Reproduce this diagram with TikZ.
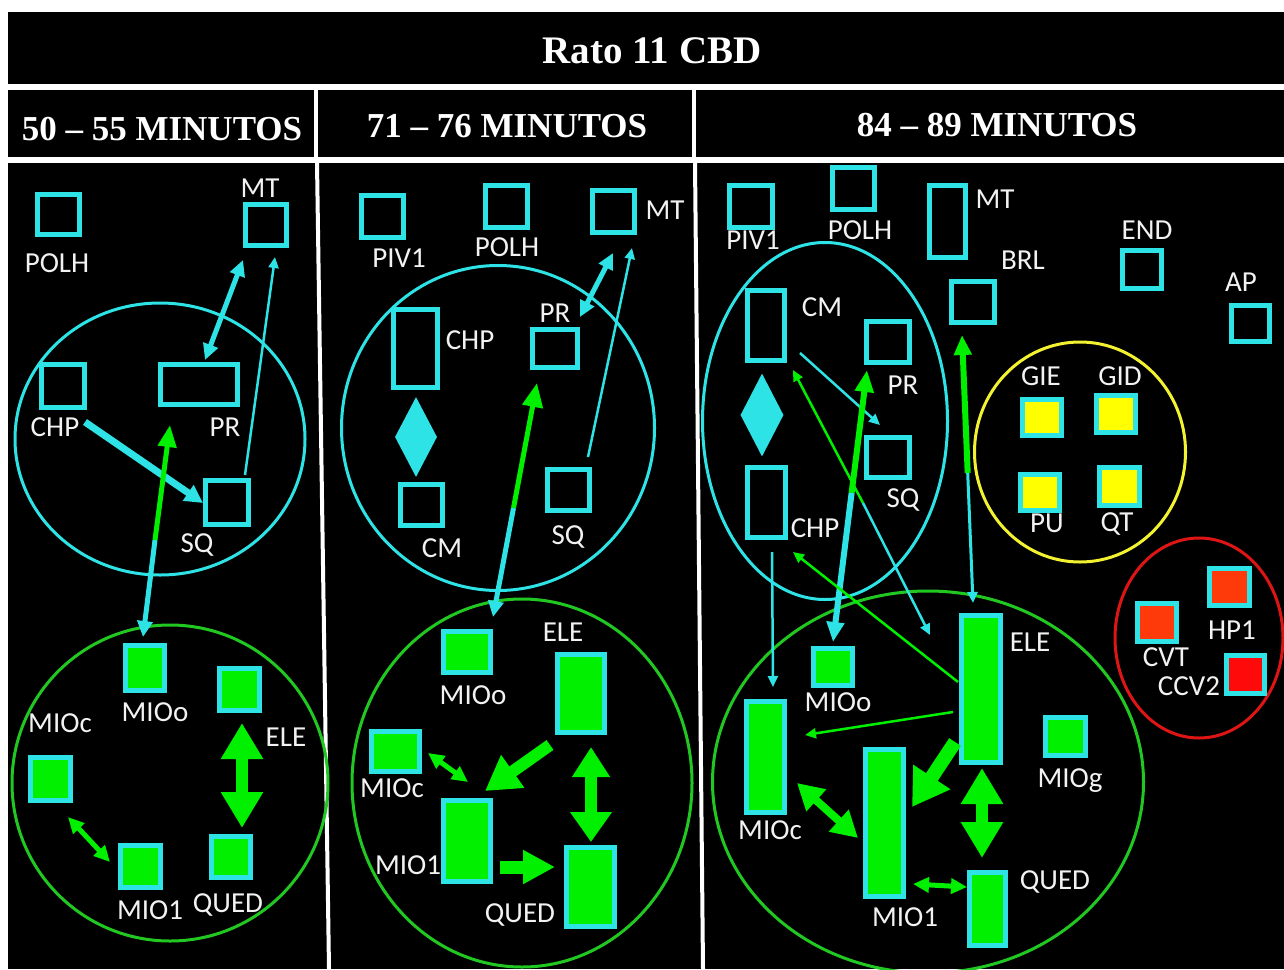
\documentclass[tikz,border=0pt]{standalone}
\usepackage{fontspec}
\setmainfont{Liberation Serif}
\newfontfamily\labfont{Carlito}
\usetikzlibrary{arrows.meta,shapes.geometric}
\definecolor{cy}{HTML}{2EE3E6}
\definecolor{gr}{HTML}{00F000}
\definecolor{grl}{HTML}{22C822}
\definecolor{ye}{HTML}{FFFF00}
\definecolor{yel}{HTML}{F2F230}
\definecolor{org}{HTML}{FF3A0A}
\definecolor{rd}{HTML}{FF0A0A}
\definecolor{rel}{HTML}{DD1515}
\definecolor{txt}{HTML}{F2F2F2}
\newcommand\mybox[6]{%
 \pgfmathsetmacro\bcx{(#3+#5)/2}%
 \pgfmathsetmacro\bcy{(#4+#6)/2}%
 \pgfmathsetmacro\bw{#5-#3-5}%
 \pgfmathsetmacro\bh{#6-#4-5}%
 \node[#1, minimum width=\bw pt, minimum height=\bh pt] (#2) at (\bcx,\bcy) {};}
\tikzset{
 bx/.style={draw=cy, line width=5pt, inner sep=0pt, rectangle},
 gbx/.style={bx, fill=gr},
 ybx/.style={bx, fill=ye},
 obx/.style={bx, fill=org},
 rbx/.style={bx, fill=rd},
 lbl/.style={text=txt, font=\labfont\fontsize{29}{29}\selectfont, inner sep=0pt, text height=18.5pt, text depth=0pt},
 hdr/.style={text=white, font=\bfseries\fontsize{35}{35}\selectfont, inner sep=0pt, text height=23pt, text depth=0pt},
 ttl/.style={text=white, font=\bfseries\fontsize{39}{39}\selectfont, inner sep=0pt, text height=26pt, text depth=0pt},
 cyell/.style={ellipse, draw=cy, line width=3pt, inner sep=0pt},
 grell/.style={ellipse, draw=grl, line width=3pt, inner sep=0pt},
 thin/.style={line width=2.5pt, -{Triangle[length=11pt,width=10pt]}},
 mid/.style={line width=5pt, {Triangle[length=16pt,width=15pt]}-{Triangle[length=16pt,width=15pt]}},
 big/.style={line width=12pt, -{Triangle[length=34pt,width=38pt]}},
 bigdbl/.style={line width=12pt, {Triangle[length=36pt,width=40pt]}-{Triangle[length=36pt,width=40pt]}},
 dblm/.style={line width=8pt, {Triangle[length=26pt,width=28pt]}-{Triangle[length=26pt,width=28pt]}},
}
\begin{document}
\begin{tikzpicture}[x=1pt,y=-1pt]
\useasboundingbox (0,0) rectangle (1284,969);
\fill[white] (0,0) rectangle (1284,969);
\fill[black] (8,12) rectangle (1284,84);
\fill[black] (8,90) rectangle (1284,157);
\fill[black] (8,163) rectangle (1284,969);
\draw[white, line width=4pt] (316,90) -- (316,157);
\draw[white, line width=4pt] (694,90) -- (694,157);
\draw[white, line width=4pt] (317,163) -- (329,969);
\draw[white, line width=4pt] (695,163) -- (703,969);
\node[ttl] (title) at (652,50) {Rato 11 CBD};
\node[hdr] (h1) at (162,129) {50 – 55 MINUTOS};
\node[hdr] (h2) at (507,126) {71 – 76 MINUTOS};
\node[hdr] (h3) at (997,125) {84 – 89 MINUTOS};

% ellipses
\node[cyell, minimum width=290pt, minimum height=272pt] (e1c) at (160,439) {};
\node[grell, minimum width=316pt, minimum height=316pt] (e1g) at (170,783) {};
\node[cyell, minimum width=313pt, minimum height=325pt] (e2c) at (498,428) {};
\node[grell, minimum width=340pt, minimum height=368pt] (e2g) at (522,783) {};
\node[cyell, minimum width=245pt, minimum height=357pt] (e3c) at (825,421) {};
\node[grell, minimum width=431pt, minimum height=382pt] (e3g) at (928,782) {};
\node[ellipse, draw=yel, line width=3pt, minimum width=211pt, minimum height=220pt] (e3y) at (1080,452) {};
\node[ellipse, draw=rel, line width=3pt, minimum width=168pt, minimum height=200pt] (e3r) at (1199,638) {};

% column 1 boxes
\mybox{bx}{aPOLH}{35}{192}{82}{237}
\mybox{bx}{aMT}{243}{202}{289}{248}
\mybox{bx}{aCHP}{39}{362}{87}{410}
\mybox{bx}{aPR}{158}{362}{240}{407}
\mybox{bx}{aSQ}{203}{478}{251}{527}
\mybox{gbx}{aMIOo}{123}{643}{167}{693}
\mybox{gbx}{aELE}{217}{666}{262}{713}
\mybox{gbx}{aMIOc}{28}{755}{73}{803}
\mybox{gbx}{aMIOi}{118}{843}{163}{890}
\mybox{gbx}{aQUED}{209}{834}{253}{880}
\node[lbl] (laPOLH) at (57,263) {POLH};
\node[lbl] (laMT) at (260,188) {MT};
\node[lbl] (laCHP) at (55,427) {CHP};
\node[lbl] (laPR) at (225,427) {PR};
\node[lbl] (laSQ) at (197,543) {SQ};
\node[lbl] (laMIOo) at (155,712) {MIOo};
\node[lbl] (laELE) at (286,737) {ELE};
\node[lbl] (laMIOc) at (60,723) {MIOc};
\node[lbl] (laMIOi) at (150,910) {MIO1};
\node[lbl] (laQUED) at (228,903) {QUED};

% column 2 boxes
\mybox{bx}{bPIV}{359}{193}{406}{240}
\mybox{bx}{bPOLH}{483}{183}{530}{230}
\mybox{bx}{bMT}{590}{188}{637}{235}
\mybox{bx}{bCHP}{391}{307}{440}{390}
\mybox{bx}{bCM}{398}{482}{445}{528}
\mybox{bx}{bPR}{530}{327}{580}{370}
\mybox{bx}{bSQ}{545}{467}{592}{513}
\node[diamond, fill=cy, inner sep=0pt, minimum width=42pt, minimum height=80pt] (bDia) at (416,437) {};
\mybox{gbx}{bMIOo}{441}{629}{493}{675}
\mybox{gbx}{bELE}{555}{652}{607}{735}
\mybox{gbx}{bMIOc}{369}{729}{422}{774}
\mybox{gbx}{bMIOi}{441}{798}{493}{884}
\mybox{gbx}{bQUED}{564}{845}{617}{929}
\node[lbl] (lbPIV) at (399,258) {PIV1};
\node[lbl] (lbPOLH) at (507,247) {POLH};
\node[lbl] (lbMT) at (665,210) {MT};
\node[lbl] (lbCHP) at (470,340) {CHP};
\node[lbl] (lbCM) at (442,548) {CM};
\node[lbl] (lbPR) at (555,313) {PR};
\node[lbl] (lbSQ) at (568,535) {SQ};
\node[lbl] (lbMIOo) at (473,695) {MIOo};
\node[lbl] (lbELE) at (563,632) {ELE};
\node[lbl] (lbMIOc) at (392,788) {MIOc};
\node[lbl] (lbMIOi) at (408,865) {MIO1};
\node[lbl] (lbQUED) at (520,913) {QUED};

% column 3 boxes
\mybox{bx}{cPIV}{727}{183}{775}{230}
\mybox{bx}{cPOLH}{830}{165}{877}{212}
\mybox{bx}{cMT}{927}{183}{968}{260}
\mybox{bx}{cBRL}{949}{279}{997}{325}
\mybox{bx}{cCM}{745}{288}{787}{363}
\node[diamond, fill=cy, inner sep=0pt, minimum width=43pt, minimum height=83pt] (cDia) at (762,415) {};
\mybox{bx}{cCHP}{745}{465}{788}{540}
\mybox{bx}{cPR}{864}{319}{912}{365}
\mybox{bx}{cSQ}{864}{435}{912}{480}
\mybox{gbx}{cMIOo}{811}{646}{855}{688}
\mybox{gbx}{cELE}{959}{613}{1003}{765}
\mybox{gbx}{cMIOc}{744}{699}{787}{815}
\mybox{gbx}{cMIOi}{863}{747}{906}{899}
\mybox{gbx}{cQUED}{967}{870}{1008}{948}
\mybox{gbx}{cMIOg}{1043}{715}{1088}{758}
\mybox{bx}{cEND}{1120}{248}{1164}{291}
\mybox{bx}{cAP}{1229}{303}{1272}{344}
\mybox{ybx}{cGIE}{1020}{397}{1064}{438}
\mybox{ybx}{cGID}{1094}{393}{1138}{435}
\mybox{ybx}{cPU}{1018}{472}{1062}{513}
\mybox{ybx}{cQT}{1097}{465}{1142}{508}
\mybox{obx}{cHP}{1207}{566}{1252}{608}
\mybox{obx}{cCVT}{1135}{601}{1179}{644}
\mybox{rbx}{cCCV}{1224}{653}{1267}{696}
\node[lbl] (lcPIV) at (753,240) {PIV1};
\node[lbl] (lcPOLH) at (860,230) {POLH};
\node[lbl] (lcMT) at (995,199) {MT};
\node[lbl] (lcBRL) at (1023,260) {BRL};
\node[lbl] (lcCM) at (822,307) {CM};
\node[lbl] (lcPR) at (903,385) {PR};
\node[lbl] (lcSQ) at (903,498) {SQ};
\node[lbl] (lcCHP) at (815,528) {CHP};
\node[lbl] (lcMIOo) at (838,702) {MIOo};
\node[lbl] (lcELE) at (1030,642) {ELE};
\node[lbl] (lcMIOc) at (770,830) {MIOc};
\node[lbl] (lcMIOi) at (905,917) {MIO1};
\node[lbl] (lcQUED) at (1055,880) {QUED};
\node[lbl] (lcMIOg) at (1070,778) {MIOg};
\node[lbl] (lcEND) at (1147,230) {END};
\node[lbl] (lcAP) at (1241,282) {AP};
\node[lbl] (lcGIE) at (1041,376) {GIE};
\node[lbl] (lcGID) at (1120,376) {GID};
\node[lbl] (lcPU) at (1047,523) {PU};
\node[lbl] (lcQT) at (1117,522) {QT};
\node[lbl] (lcHP) at (1232,630) {HP1};
\node[lbl] (lcCVT) at (1166,657) {CVT};
\node[lbl] (lcCCV) at (1189,686) {CCV2};

% connector end points
\coordinate (a1) at (205,360); \coordinate (a2) at (243,260);
\coordinate (a3) at (245,475); \coordinate (a4) at (275,257);
\coordinate (a5) at (85,422);  \coordinate (a6) at (203,503);
\coordinate (a7) at (155,540); \coordinate (a8) at (143,637); \coordinate (a9) at (170,425);
\coordinate (a10) at (242,723); \coordinate (a11) at (242,828);
\coordinate (a12) at (68,817); \coordinate (a13) at (110,862);

\coordinate (b1) at (580,317); \coordinate (b2) at (613,253);
\coordinate (b3) at (588,457); \coordinate (b4) at (632,248);
\coordinate (b5) at (513.5,508); \coordinate (b6) at (493,617); \coordinate (b7) at (537,383);
\coordinate (b8) at (428,753); \coordinate (b9) at (468,782);
\coordinate (b10) at (550,745); \coordinate (b11) at (485,791);
\coordinate (b12) at (500,867); \coordinate (b13) at (555,867);
\coordinate (b14) at (591,747); \coordinate (b15) at (591,842);

\coordinate (c1) at (800,353); \coordinate (c2) at (880,425);
\coordinate (c3) at (863,503); \coordinate (c4) at (793,370); \coordinate (c5) at (930,635);
\coordinate (c6) at (851.6,493); \coordinate (c7) at (867,370); \coordinate (c8) at (833,642);
\coordinate (c9) at (772,552); \coordinate (c10) at (773,687);
\coordinate (c11) at (958,682); \coordinate (c12) at (793,552);
\coordinate (c13) at (967.7,473); \coordinate (c14) at (962,335); \coordinate (c15) at (973,603);
\coordinate (c16) at (953,712); \coordinate (c17) at (805,735);
\coordinate (c18) at (955,742); \coordinate (c19) at (912,807);
\coordinate (c20) at (797,783); \coordinate (c21) at (858,838);
\coordinate (c22) at (982,768); \coordinate (c23) at (982,858);
\coordinate (c24) at (913,884); \coordinate (c25) at (967,887);

% column 1 connectors
\draw[mid, cy] (a1) -- (a2);
\draw[thin, cy] (a3) -- (a4);
\draw[line width=7pt, cy, -{Triangle[length=18pt,width=18pt]}] (a5) -- (a6);
\draw[line width=5pt, cy, -{Triangle[length=16pt,width=15pt]}] (a7) -- (a8);
\draw[line width=5pt, gr, -{Triangle[length=22pt,width=18pt]}] (a7) -- (a9);
\draw[bigdbl, gr] (a10) -- (a11);
\draw[mid, gr] (a12) -- (a13);

% column 2 connectors
\draw[mid, cy] (b1) -- (b2);
\draw[thin, cy] (b3) -- (b4);
\draw[line width=5pt, cy, -{Triangle[length=16pt,width=15pt]}] (b5) -- (b6);
\draw[line width=5pt, gr, -{Triangle[length=24pt,width=20pt]}] (b5) -- (b7);
\draw[mid, gr] (b8) -- (b9);
\draw[big, gr] (b10) -- (b11);
\draw[line width=13pt, gr, -{Triangle[length=32pt,width=32pt]}] (b12) -- (b13);
\draw[line width=12pt, gr, {Triangle[length=30pt,width=36pt]}-{Triangle[length=30pt,width=40pt]}] (b14) -- (b15);

% column 3 connectors
\draw[thin, cy] (c1) -- (c2);
\draw[thin, gr] (c3) -- (c4);
\draw[thin, cy] (c3) -- (c5);
\draw[line width=6pt, gr, -{Triangle[length=22pt,width=18pt]}] (c6) -- (c7);
\draw[line width=6pt, cy, -{Triangle[length=20pt,width=17pt]}] (c6) -- (c8);
\draw[thin, cy] (c9) -- (c10);
\draw[thin, gr] (c11) -- (c12);
\draw[line width=6pt, gr, -{Triangle[length=20pt,width=17pt]}] (c13) -- (c14);
\draw[line width=3pt, cy, -{Triangle[length=11pt,width=10pt]}] (c13) -- (c15);
\draw[thin, gr] (c16) -- (c17);
\draw[line width=14pt, gr, -{Triangle[length=36pt,width=42pt]}] (c18) -- (c19);
\draw[dblm, gr] (c20) -- (c21);
\draw[bigdbl, gr] (c22) -- (c23);
\draw[mid, gr] (c24) -- (c25);
\end{tikzpicture}
\end{document}
